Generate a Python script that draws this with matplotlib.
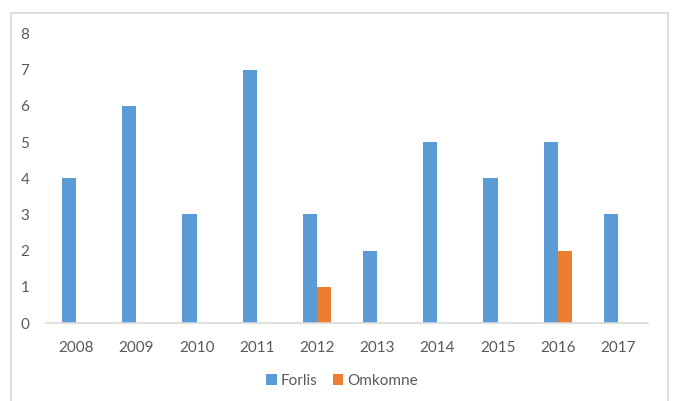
import matplotlib.pyplot as plt
import numpy as np
from matplotlib.patches import Rectangle

# --- Data ---
years = ["2008", "2009", "2010", "2011", "2012", "2013", "2014", "2015", "2016", "2017"]
forlis = [4, 6, 3, 7, 3, 2, 5, 4, 5, 3]
omkomne = [0, 0, 0, 0, 1, 0, 0, 0, 2, 0]

BLUE = "#5B9BD5"
ORANGE = "#ED7D31"
TEXT = "#595959"

plt.rcParams["font.family"] = ["Lato", "DejaVu Sans"]

fig = plt.figure(figsize=(6.73, 4.01), dpi=100)
ax = fig.add_axes([0.0684, 0.1945, 0.8946, 0.7222])

# chart area border
fig.patches.append(Rectangle((11 / 673, -0.05), (668 - 11) / 673, 1.05 - 13 / 401,
                             transform=fig.transFigure, fill=False,
                             edgecolor="#D9D9D9", linewidth=1.2))

x = np.arange(len(years))
w = 0.235
ax.bar(x - w / 2, forlis, width=w, color=BLUE, label="Forlis")
ax.bar(x + w / 2, omkomne, width=w, color=ORANGE, label="Omkomne")

ax.set_xlim(-0.5, len(years) - 0.5)
ax.set_ylim(0, 8)
ax.set_yticks(range(0, 9))
ax.set_xticks(x)
ax.set_xticklabels(years)

for side in ["top", "right", "left"]:
    ax.spines[side].set_visible(False)
ax.spines["bottom"].set_color("#D9D9D9")
ax.spines["bottom"].set_linewidth(1.2)

ax.tick_params(axis="both", length=0, labelsize=11, labelcolor=TEXT)
ax.tick_params(axis="x", pad=13)
ax.tick_params(axis="y", pad=12)

fig.legend(loc="center", bbox_to_anchor=(0.508, 0.05), ncol=2, frameon=False,
           fontsize=11, labelcolor=TEXT, handlelength=0.7, handleheight=0.7,
           handletextpad=0.25, columnspacing=1.0)

fig.savefig("out.png", dpi=100)
